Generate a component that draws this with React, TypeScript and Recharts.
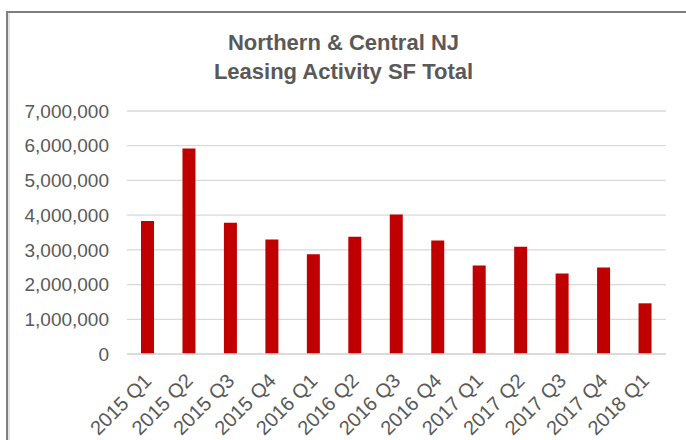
import React from "react";
import { BarChart, Bar, XAxis, YAxis, CartesianGrid } from "recharts";

const categories = [
  "2015 Q1", "2015 Q2", "2015 Q3", "2015 Q4",
  "2016 Q1", "2016 Q2", "2016 Q3", "2016 Q4",
  "2017 Q1", "2017 Q2", "2017 Q3", "2017 Q4",
  "2018 Q1",
];
const leasingSF = [
  3830000, 5920000, 3780000, 3300000,
  2870000, 3380000, 4020000, 3270000,
  2550000, 3090000, 2320000, 2490000,
  1460000,
];
const yTicks = [0, 1000000, 2000000, 3000000, 4000000, 5000000, 6000000, 7000000];
const titleLines = ["Northern & Central NJ", "Leasing Activity SF Total"];

const data = categories.map((c, i) => ({ name: c, value: leasingSF[i] }));

const FONT = "'Liberation Sans', Arial, sans-serif";
const TEXT = "#595959";

const XTick = (props: any) => {
  const { x, y, payload } = props;
  const ax = x + 5;
  const ay = y + 20;
  return (
    <text
      x={ax}
      y={ay}
      transform={`rotate(-45, ${ax}, ${ay})`}
      textAnchor="end"
      fill={TEXT}
      fontSize={20}
      fontFamily={FONT}
    >
      {payload.value}
    </text>
  );
};

export default function App() {
  return (
    <div style={{ position: "fixed", left: 0, top: 0, width: 686, height: 440, background: "#fff", overflow: "hidden" }}>
      <div style={{ position: "absolute", left: 6, top: 11, width: 700, height: 460, borderTop: "2px solid #7f7f7f", borderLeft: "2px solid #7f7f7f" }} />
      <div style={{ position: "absolute", left: 8, top: 13, width: 2, height: 460, background: "#e4e4e4" }} />
      <BarChart
        width={686}
        height={440}
        data={data}
        margin={{ top: 111, right: 20, bottom: 0, left: 0 }}
        barCategoryGap={0}
      >
        <CartesianGrid vertical={false} stroke="#d9d9d9" strokeWidth={1.3} />
        <XAxis
          dataKey="name"
          height={86}
          interval={0}
          tickLine={false}
          axisLine={{ stroke: "#d9d9d9", strokeWidth: 1.3 }}
          tick={<XTick />}
        />
        <YAxis
          width={127}
          domain={[0, 7000000]}
          ticks={yTicks}
          tickLine={false}
          axisLine={false}
          tickMargin={12}
          tickFormatter={(v: number) => v.toLocaleString("en-US")}
          tick={{ fill: TEXT, fontSize: 19, fontFamily: FONT }}
        />
        <Bar dataKey="value" fill="#c00000" barSize={13} isAnimationActive={false} />
      </BarChart>
      <svg width={686} height={100} style={{ position: "absolute", left: 0, top: 0 }}>
        {titleLines.map((t, i) => (
          <text
            key={t}
            x={343.5}
            y={50 + i * 29}
            textAnchor="middle"
            fill={TEXT}
            fontSize={22}
            fontWeight="bold"
            fontFamily={FONT}
          >
            {t}
          </text>
        ))}
      </svg>
    </div>
  );
}
